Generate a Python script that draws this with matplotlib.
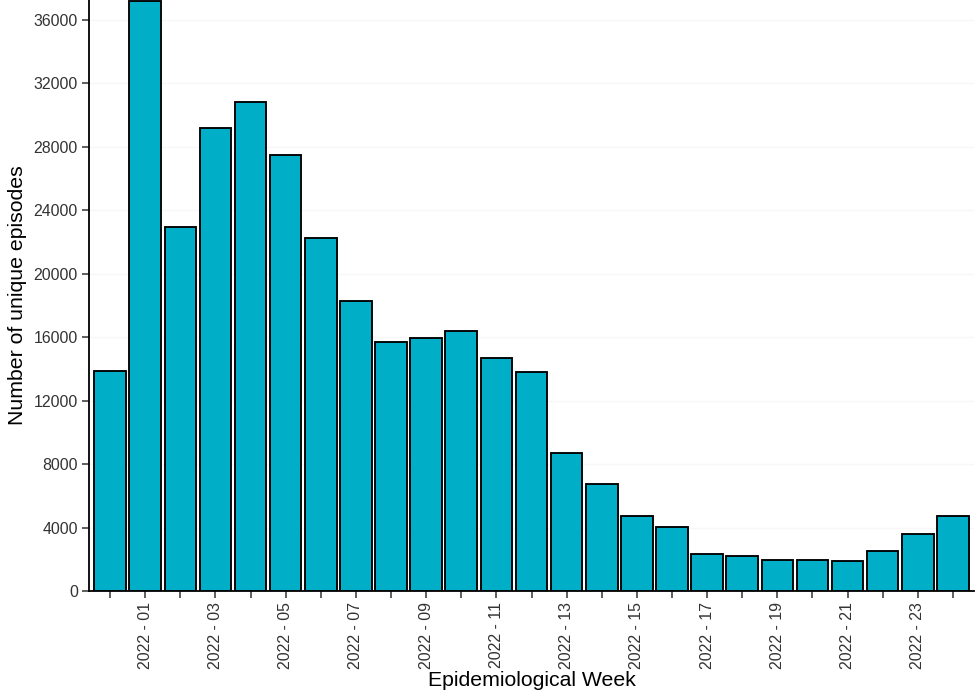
import matplotlib
matplotlib.use("Agg")
import matplotlib.pyplot as plt
import numpy as np

# weekly counts, 2021-52 through 2022-24
weeks = ["2021 - 52"] + ["2022 - %02d" % w for w in range(1, 25)]
episodes = [13880, 37200, 22920, 29190, 30850, 27480, 22270, 18270, 15710,
            15980, 16400, 14680, 13810, 8700, 6730, 4710, 4040, 2320, 2230,
            1980, 1980, 1890, 2550, 3600, 4710]
# only odd weeks of 2022 get a label
tick_labels = [w if (i % 2 == 1) else "" for i, w in enumerate(weeks)]

plt.rcParams["font.family"] = ["Liberation Sans", "DejaVu Sans"]

fig = plt.figure(figsize=(9.8, 7), dpi=100)
ax = fig.add_axes([89 / 980, 1 - 591 / 700, (974 - 89) / 980, 591 / 700])

x = np.arange(len(weeks))
ax.bar(x, episodes, width=0.9, color="#00AEC7", edgecolor="black",
       linewidth=1.35, zorder=3)

ax.set_xlim(-0.6, len(weeks) - 0.4)
ax.set_ylim(0, 37260)
ax.set_yticks(np.arange(0, 36001, 4000))
ax.set_xticks(x)
ax.set_xticklabels(tick_labels, rotation=90)

ax.grid(axis="y", color="#F7F7F7", linewidth=1.0, zorder=0)
for s in ["top", "right"]:
    ax.spines[s].set_visible(False)
for s in ["left", "bottom"]:
    ax.spines[s].set_linewidth(1.3)
    ax.spines[s].set_color("black")
ax.tick_params(axis="both", length=5, width=1.1, color="#333333",
               labelcolor="#333333", labelsize=11.4, pad=3)

ax.set_xlabel("Epidemiological Week", fontsize=15.3, labelpad=1)
ax.set_ylabel("Number of unique episodes", fontsize=15.3, labelpad=5)

fig.savefig("out.png", dpi=100)
